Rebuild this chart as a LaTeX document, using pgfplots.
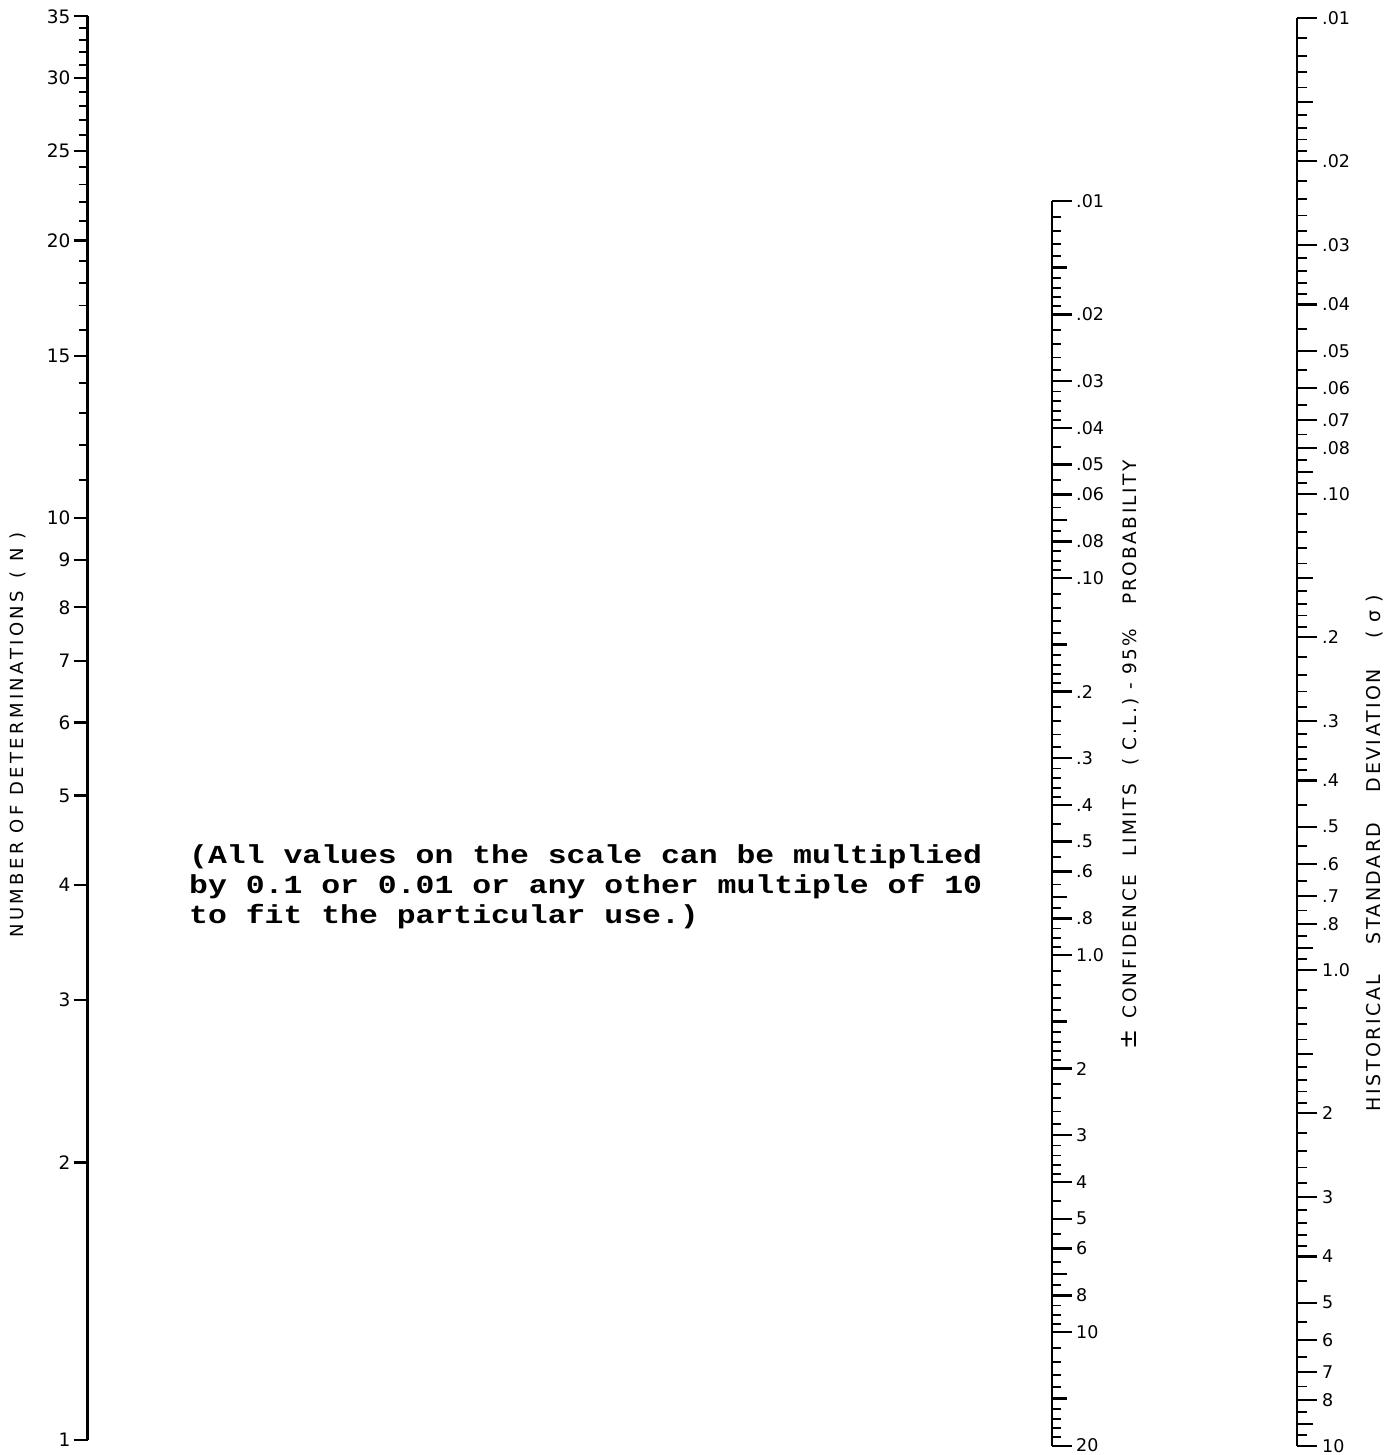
\documentclass[border=0pt]{standalone}
\usepackage{pgfplots}
\pgfplotsset{compat=1.18}
\usepackage{fontspec}
\setmainfont{DejaVu Sans}
\newfontfamily\lblfont[LetterSpace=13]{DejaVu Sans}
\newfontfamily\lblfontB[LetterSpace=19]{DejaVu Sans}
\newfontfamily\typew[FakeStretch=1.21]{Liberation Mono}
\pgfplotsset{
  every non boxed y axis/.append style={ytick align=outside, y axis line style={-}},
  nomo/.style={
    scale only axis, width=10pt,
    xmin=0, xmax=1, axis x line=none,
    axis line style={-, line width=2.4pt},
    tick align=outside,
    every tick/.append style={line width=2pt, black},
    every major tick/.append style={line width=2.2pt, black},
    every minor tick/.append style={line width=1.9pt, black},
    tick label style={font=\fontsize{17.5}{17.5}\selectfont},
    clip=false,
  }
}
\begin{document}
\begin{tikzpicture}
\path[use as bounding box] (0pt,0pt) rectangle (1392pt,1455pt);
% ---------------- N scale ----------------
\begin{axis}[nomo, ymode=log,
  anchor=south west, at={(87.5pt,15pt)}, height=1423.6pt,
  axis y line=left,
  ymin=1, ymax=35,
  major tick length=14pt, minor tick length=9pt,
  ytick={1,2,3,4,5,6,7,8,9,10,15,20,25,30,35},
  yticklabels={1,2,3,4,5,6,7,8,9,10,15,20,25,30,35},
  minor ytick={11,12,13,14,16,17,18,19,21,22,23,24,26,27,28,29,31,32,33,34},
  yticklabel style={anchor=east, inner xsep=3pt, font=\fontsize{18.5}{18.5}\selectfont},
]
\end{axis}
% ---------------- C.L. scale ----------------
\begin{axis}[nomo, ymode=log,
  anchor=south east, at={(1052pt,9.4pt)}, height=1244.6pt,
  axis y line=right, y dir=reverse,
  ymin=0.01, ymax=20,
  major tick length=20pt, minor tick length=9pt,
  ytick={0.01,0.02,0.03,0.04,0.05,0.06,0.08,0.1,0.2,0.3,0.4,0.5,0.6,0.8,1,2,3,4,5,6,8,10,20},
  yticklabels={.01,.02,.03,.04,.05,.06,.08,.10,.2,.3,.4,.5,.6,.8,1.0,2,3,4,5,6,8,10,20},
  extra y ticks={0.015,0.07,0.15,0.7,1.5,7,15},
  extra y tick labels={},
  extra y tick style={major tick length=15pt},
  minor ytick={0.011,0.012,0.013,0.014,0.016,0.017,0.018,0.019,0.022,0.024,0.026,0.028,0.032,0.034,0.036,0.038,0.045,0.055,0.065,0.075,0.085,0.09,0.095,
    0.11,0.12,0.13,0.14,0.16,0.17,0.18,0.19,0.22,0.24,0.26,0.28,0.32,0.34,0.36,0.38,0.45,0.55,0.65,0.75,0.85,0.9,0.95,
    1.1,1.2,1.3,1.4,1.6,1.7,1.8,1.9,2.2,2.4,2.6,2.8,3.2,3.4,3.6,3.8,4.5,5.5,6.5,7.5,8.5,9,9.5,
    11,12,13,14,16,17,18,19},
  yticklabel style={anchor=west, inner xsep=4pt},
]
\end{axis}
% ---------------- sigma scale ----------------
\begin{axis}[nomo, ymode=log,
  anchor=south east, at={(1297pt,9pt)}, height=1428pt,
  axis y line=right, y dir=reverse,
  ymin=0.01, ymax=10,
  major tick length=20pt, minor tick length=10pt,
  ytick={0.01,0.02,0.03,0.04,0.05,0.06,0.07,0.08,0.1,0.2,0.3,0.4,0.5,0.6,0.7,0.8,1,2,3,4,5,6,7,8,10},
  yticklabels={.01,.02,.03,.04,.05,.06,.07,.08,.10,.2,.3,.4,.5,.6,.7,.8,1.0,2,3,4,5,6,7,8,10},
  extra y ticks={0.015,0.09,0.15,0.9,1.5,9},
  extra y tick labels={},
  extra y tick style={major tick length=16pt},
  minor ytick={0.011,0.012,0.013,0.014,0.016,0.017,0.018,0.019,0.022,0.024,0.026,0.028,0.032,0.034,0.036,0.038,0.045,0.055,0.065,0.075,0.085,0.095,
    0.11,0.12,0.13,0.14,0.16,0.17,0.18,0.19,0.22,0.24,0.26,0.28,0.32,0.34,0.36,0.38,0.45,0.55,0.65,0.75,0.85,0.95,
    1.1,1.2,1.3,1.4,1.6,1.7,1.8,1.9,2.2,2.4,2.6,2.8,3.2,3.4,3.6,3.8,4.5,5.5,6.5,7.5,8.5,9.5},
  yticklabel style={anchor=west, inner xsep=5pt},
]
\end{axis}
% ---------------- scale titles ----------------
\node[rotate=90, font=\lblfontB\fontsize{18}{18}\selectfont] at (18pt,720pt)
  {NUMBER OF DETERMINATIONS \hspace{0.2em}( N )};
\node[rotate=90, font=\lblfont\fontsize{18.5}{18.5}\selectfont] at (1130pt,700pt)
  {{\fontsize{24}{24}\selectfont ±}\hspace{0.6em}CONFIDENCE\hspace{1em}LIMITS\hspace{1em}( C.L.)\hspace{0.45em}-\hspace{0.45em}95\%\hspace{1.3em}PROBABILITY};
\node[rotate=90, font=\lblfont\fontsize{19}{19}\selectfont] at (1375pt,602pt)
  {HISTORICAL\hspace{1.6em}STANDARD\hspace{1.6em}DEVIATION\hspace{1.6em}( σ )};
% ---------------- note ----------------
\node[anchor=base west, align=left, inner sep=0pt,
      font=\typew\bfseries\fontsize{26}{30}\selectfont] at (189pt,531pt)
  {(All values on the scale can be multiplied\\
   by 0.1 or 0.01 or any other multiple of 10\\
   to fit the particular use.)};
\end{tikzpicture}
\end{document}
